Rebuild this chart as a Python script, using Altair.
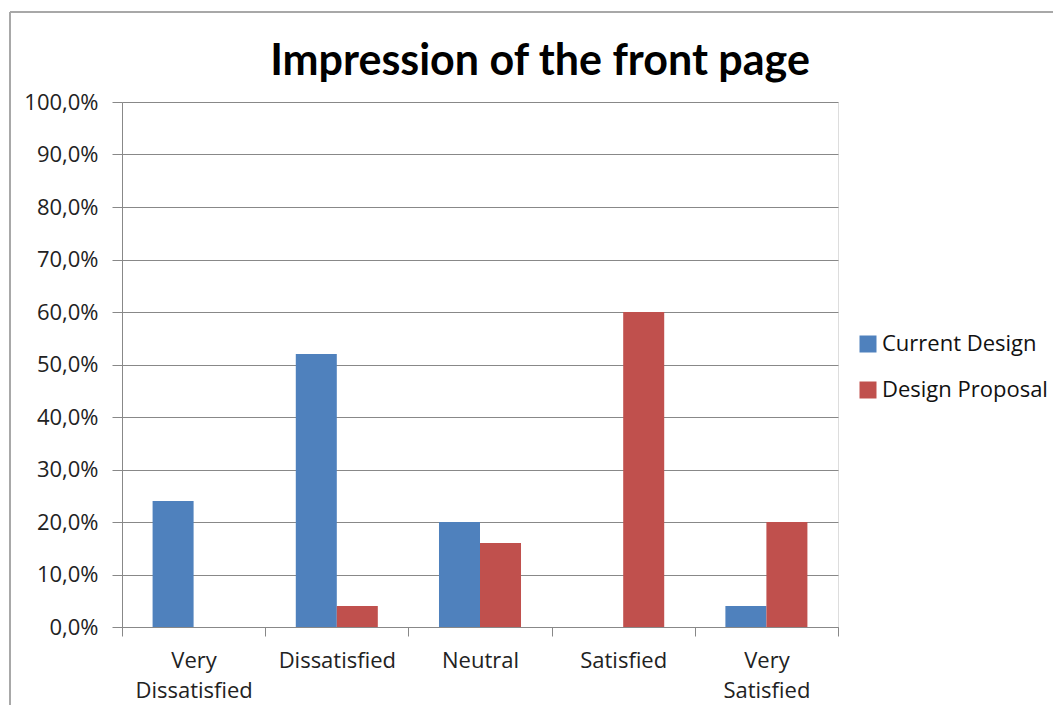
import altair as alt
import pandas as pd

title_text = "Impression of the front page"
categories = ["Very Dissatisfied", "Dissatisfied", "Neutral", "Satisfied", "Very Satisfied"]
series = ["Current Design", "Design Proposal"]
current = [0.24, 0.52, 0.20, 0.0, 0.04]
proposal = [0.0, 0.04, 0.16, 0.60, 0.20]
colors = ["#4F81BD", "#C0504D"]

rows = []
for c, a, b in zip(categories, current, proposal):
    rows.append({"cat": c, "series": series[0], "value": a})
    rows.append({"cat": c, "series": series[1], "value": b})
df = pd.DataFrame(rows)

FONT = "Open Sans"
TFONT = "Lato"
FS = 22

bars = alt.Chart(df).mark_bar().encode(
    x=alt.X("cat:N", sort=categories, title=None,
            scale=alt.Scale(paddingInner=0, paddingOuter=0),
            axis=alt.Axis(labelAngle=0, tickBand="extent", domainColor="#888888",
                          tickColor="#888888", tickSize=9, labelPadding=14,
                          labelFont=FONT, labelFontSize=FS, labelColor="#222222",
                          labelLineHeight=30, labelBaseline="top",
                          labelExpr="split(datum.label, ' ')")),
    xOffset=alt.XOffset("series:N", sort=series,
                        scale=alt.Scale(paddingInner=0, paddingOuter=0.746)),
    y=alt.Y("value:Q", title=None,
            scale=alt.Scale(domain=[0, 1]),
            axis=alt.Axis(values=[i / 10 for i in range(11)], grid=True,
                          gridColor="#888888", domainColor="#888888",
                          tickColor="#888888", tickSize=10, labelPadding=14,
                          labelFont=FONT, labelFontSize=FS, labelColor="#222222",
                          labelExpr="replace(format(datum.value, '.1%'), '.', ',')")),
    color=alt.Color("series:N", sort=series,
                    scale=alt.Scale(domain=series, range=colors),
                    legend=alt.Legend(title=None, orient="none", legendX=735, legendY=231,
                                      symbolType="square", symbolSize=289,
                                      symbolStrokeWidth=0, labelFont=FONT,
                                      labelFontSize=FS, labelColor="#111111",
                                      labelLimit=300, rowPadding=24, labelOffset=3)),
)

one = alt.Data(values=[{"k": 1}])
left_edge = alt.Chart(one).mark_rule(color="#A8A8A8", strokeWidth=2).encode(
    x=alt.value(-112), y=alt.value(-90), y2=alt.value(620))
top_edge = alt.Chart(one).mark_rule(color="#A8A8A8", strokeWidth=2).encode(
    x=alt.value(-112), x2=alt.value(950), y=alt.value(-90))
title = alt.Chart(one).mark_text(font=TFONT, fontSize=43, fontWeight="bold",
                                 color="#000000", align="center", baseline="middle").encode(
    text=alt.value(title_text), x=alt.value(418), y=alt.value(-40))

chart = alt.layer(bars, left_edge, top_edge, title).properties(
    width=716, height=525,
    autosize=alt.AutoSizeParams(type="none"),
    padding={"left": 114, "top": 94, "right": 215, "bottom": 78},
).configure_view(stroke=None).configure(background="white")

chart.save("out.html", embed_options={"renderer": "svg", "actions": False})
